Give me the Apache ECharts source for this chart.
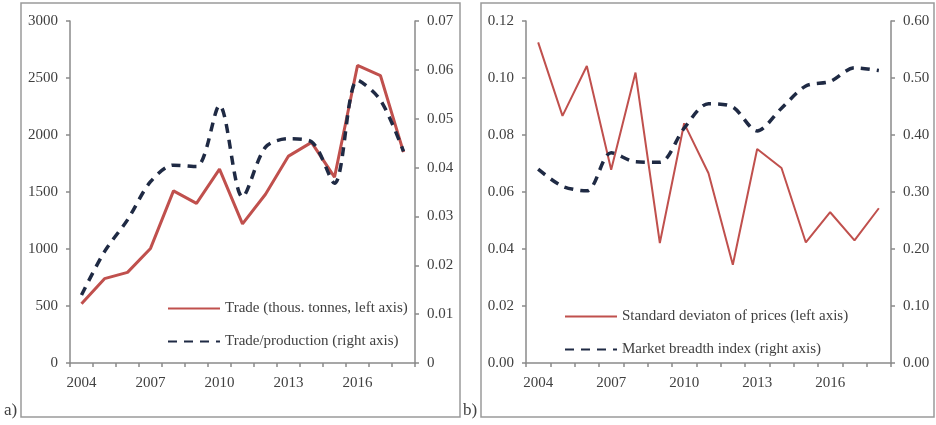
<!DOCTYPE html>
<html>
<head>
<meta charset="utf-8">
<title>Trade and market breadth</title>
<script src="https://cdn.jsdelivr.net/npm/echarts@6/dist/echarts.min.js"></script>
<style>
  html, body { margin: 0; padding: 0; background: #fff; }
  #main { width: 936px; height: 425px; }
</style>
</head>
<body>
<div id="main"></div>
<script>
// years on both panels
var years = ['2004','2005','2006','2007','2008','2009','2010','2011','2012','2013','2014','2015','2016','2017','2018'];

// panel a)
var tradeVolume = [520, 740, 795, 1005, 1510, 1400, 1700, 1220, 1480, 1815, 1935, 1630, 2610, 2520, 1850];
var tradeShare = [0.0139, 0.0228, 0.0293, 0.0371, 0.0405, 0.0402, 0.0527, 0.0340, 0.0442, 0.0459, 0.0453, 0.0368, 0.0579, 0.0538, 0.0433];

// panel b)
var priceStdDev = [0.1125, 0.0867, 0.1042, 0.0678, 0.1019, 0.0421, 0.0841, 0.0666, 0.0345, 0.0751, 0.0684, 0.0423, 0.0529, 0.0430, 0.0543];
var breadthIndex = [0.340, 0.310, 0.302, 0.369, 0.353, 0.352, 0.412, 0.455, 0.449, 0.407, 0.447, 0.486, 0.494, 0.518, 0.513];

var FONT = 'Liberation Serif';
var TXT = '#404040';
var AXIS = '#8a8a8a';
var RED = '#c0504d';
var NAVY = '#1f2a44';

function yAxisOf(gridIndex, pos, min, max, step, fmt) {
	return {
		type: 'value', gridIndex: gridIndex, position: pos,
		min: min, max: max, interval: step,
		splitLine: { show: false },
		axisLine: { show: true, lineStyle: { color: AXIS, width: 1.5 } },
		axisTick: { show: true, length: 4, lineStyle: { color: AXIS, width: 1.5 } },
		axisLabel: { color: TXT, fontFamily: FONT, fontSize: 15, margin: 12, formatter: fmt }
	};
}

function xAxisOf(gridIndex) {
	return {
		type: 'category', gridIndex: gridIndex, data: years, boundaryGap: true,
		axisLine: { lineStyle: { color: AXIS, width: 1.5 } },
		axisTick: { show: true, interval: 0, length: 4, lineStyle: { color: AXIS, width: 1.5 } },
		axisLabel: { interval: 2, color: TXT, fontFamily: FONT, fontSize: 15, margin: 13 }
	};
}

function legendOf(names, left, top, gap) {
	return {
		data: names,
		orient: 'vertical', left: left, top: top, itemWidth: 52, itemHeight: 14, itemGap: gap,
		itemStyle: { opacity: 0 },
		textStyle: { color: TXT, fontFamily: FONT, fontSize: 15 }
	};
}

var option = {
	animation: false,
	backgroundColor: '#fff',
	textStyle: { fontFamily: FONT },
	grid: [
		{ left: 70, right: 521, top: 21, bottom: 62 },
		{ left: 526, right: 45, top: 21, bottom: 62 }
	],
	xAxis: [ xAxisOf(0), xAxisOf(1) ],
	yAxis: [
		yAxisOf(0, 'left', 0, 3000, 500, function (v) { return String(v); }),
		yAxisOf(0, 'right', 0, 0.07, 0.01, function (v) { return v === 0 ? '0' : v.toFixed(2); }),
		yAxisOf(1, 'left', 0, 0.12, 0.02, function (v) { return v.toFixed(2); }),
		yAxisOf(1, 'right', 0, 0.6, 0.1, function (v) { return v.toFixed(2); })
	],
	legend: [
		legendOf(['Trade (thous. tonnes, left axis)', 'Trade/production (right axis)'], 162, 296, 18),
		legendOf(['Standard deviaton of prices (left axis)', 'Market breadth index (right axis)'], 559, 304, 18)
	],
	series: [
		{
			name: 'Trade (thous. tonnes, left axis)', type: 'line',
			xAxisIndex: 0, yAxisIndex: 0, data: tradeVolume,
			symbol: 'none', color: RED,
			lineStyle: { color: RED, width: 3 }
		},
		{
			name: 'Trade/production (right axis)', type: 'line',
			xAxisIndex: 0, yAxisIndex: 1, data: tradeShare,
			symbol: 'none', smooth: 0.3, color: NAVY,
			lineStyle: { color: NAVY, width: 3.5, type: [9, 7] }
		},
		{
			name: 'Standard deviaton of prices (left axis)', type: 'line',
			xAxisIndex: 1, yAxisIndex: 2, data: priceStdDev,
			symbol: 'none', color: RED,
			lineStyle: { color: RED, width: 2 }
		},
		{
			name: 'Market breadth index (right axis)', type: 'line',
			xAxisIndex: 1, yAxisIndex: 3, data: breadthIndex,
			symbol: 'none', smooth: 0.3, color: NAVY,
			lineStyle: { color: NAVY, width: 3.5, type: [9, 7] }
		}
	],
	// panel frames and a) b) captions
	graphic: [
		{ type: 'rect', shape: { x: 21, y: 3, width: 439, height: 414 }, style: { fill: 'none', stroke: '#9a9a9a', lineWidth: 1.5 }, z: -1 },
		{ type: 'rect', shape: { x: 481, y: 3, width: 453, height: 414 }, style: { fill: 'none', stroke: '#9a9a9a', lineWidth: 1.5 }, z: -1 },
		{ type: 'text', left: 4, top: 402, style: { text: 'a)', font: '17px "Liberation Serif"', fill: TXT } },
		{ type: 'text', left: 463, top: 402, style: { text: 'b)', font: '17px "Liberation Serif"', fill: TXT } }
	]
};

var myChart = echarts.init(document.getElementById('main'));
myChart.setOption(option);
</script>
</body>
</html>
